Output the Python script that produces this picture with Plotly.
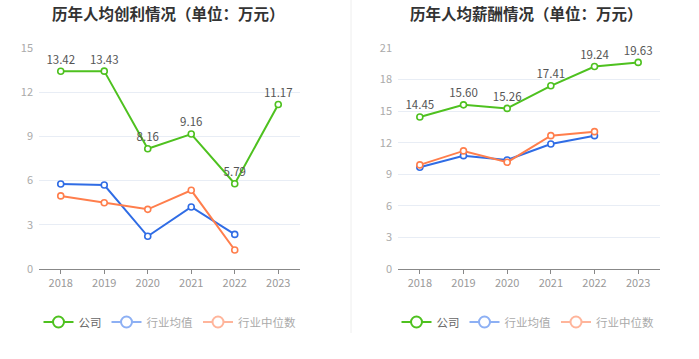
import plotly.graph_objects as go

years = ["2018", "2019", "2020", "2021", "2022", "2023"]

profit_company = [13.42, 13.43, 8.16, 9.16, 5.79, 11.17]
profit_avg = [5.77, 5.70, 2.22, 4.21, 2.35, None]
profit_median = [4.96, 4.50, 4.05, 5.34, 1.29, None]

salary_company = [14.45, 15.60, 15.26, 17.41, 19.24, 19.63]
salary_avg = [9.67, 10.77, 10.36, 11.88, 12.67, None]
salary_median = [9.89, 11.22, 10.14, 12.67, 13.05, None]

titles = ["历年人均创利情况（单位：万元）", "历年人均薪酬情况（单位：万元）"]
series_names = ["公司", "行业均值", "行业中位数"]

GREEN = "#4ec11f"
BLUE = "#2f6ce5"
ORANGE = "#ff7e4c"
BLUE_L = "#8db0f4"
ORANGE_L = "#ffb59b"
FONT = "Noto Sans CJK SC"

W, H = 699, 359
def px(x):
    return x / W
def py(y):
    return (H - y) / H

fig = go.Figure()

panels = [
    dict(xa="x", ya="y", leg="legend", data=[profit_company, profit_avg, profit_median]),
    dict(xa="x2", ya="y2", leg="legend2", data=[salary_company, salary_avg, salary_median]),
]
colors = [GREEN, BLUE, ORANGE]
for p in panels:
    for i, (vals, col) in enumerate(zip(p["data"], colors)):
        fig.add_trace(go.Scatter(
            x=years, y=vals, xaxis=p["xa"], yaxis=p["ya"],
            mode="lines+markers+text" if i == 0 else "lines+markers",
            text=[f"{v:.2f}" if v is not None else "" for v in vals] if i == 0 else None,
            textposition="top center",
            textfont=dict(size=11.5, color="#555", family=FONT),
            line=dict(color=col, width=2),
            marker=dict(symbol="circle", size=6, color="white", line=dict(color=col, width=1.6)),
            showlegend=False, cliponaxis=False, hoverinfo="skip",
        ))
    leg_colors = [GREEN, BLUE_L, ORANGE_L]
    leg_text = ["#666", "#aaa", "#aaa"]
    for name, col, tc in zip(series_names, leg_colors, leg_text):
        fig.add_trace(go.Scatter(
            x=[None], y=[None], xaxis=p["xa"], yaxis=p["ya"],
            mode="lines+markers", name=f"<span style='color:{tc}'>{name}</span>",
            line=dict(color=col, width=2),
            marker=dict(symbol="circle", size=11, color="white", line=dict(color=col, width=2)),
            legend=p["leg"],
        ))

axis_common = dict(
    type="category", range=[-0.5, 5.5], showgrid=False, showline=True,
    linecolor="#888", linewidth=1, ticks="outside", ticklen=4, tickcolor="#888",
    tickfont=dict(size=11, color="#999", family=FONT), zeroline=False, fixedrange=True,
)
yaxis_common = dict(
    showgrid=True, gridcolor="#e8edf5", gridwidth=1, zeroline=False, showline=False,
    tickfont=dict(size=11, color="#aaa", family=FONT), ticks="", fixedrange=True,
    ticklabelstandoff=5,
)

fig.update_layout(
    width=W, height=H, margin=dict(l=0, r=0, t=0, b=0, autoexpand=False),
    paper_bgcolor="white", plot_bgcolor="white",
    font=dict(family=FONT),
    xaxis=dict(domain=[px(39), px(300)], anchor="y", **axis_common),
    yaxis=dict(domain=[py(269), py(48)], anchor="x", range=[0, 15], dtick=3, **yaxis_common),
    xaxis2=dict(domain=[px(398), px(660)], anchor="y2", **axis_common),
    yaxis2=dict(domain=[py(269), py(48)], anchor="x2", range=[0, 21], dtick=3, **yaxis_common),
    legend=dict(orientation="h", x=px(170), xanchor="center", y=py(322), yanchor="middle",
                font=dict(size=11.5, color="#666", family=FONT), itemwidth=30,
                bgcolor="rgba(0,0,0,0)", tracegroupgap=0),
    legend2=dict(orientation="h", x=px(528), xanchor="center", y=py(322), yanchor="middle",
                 font=dict(size=11.5, color="#666", family=FONT), itemwidth=30,
                 bgcolor="rgba(0,0,0,0)", tracegroupgap=0),
    annotations=[
        dict(text=f"<b>{titles[0]}</b>", x=px(168), y=py(13), xref="paper", yref="paper",
             xanchor="center", yanchor="middle", showarrow=False,
             font=dict(size=15.5, color="#333", family=FONT)),
        dict(text=f"<b>{titles[1]}</b>", x=px(526), y=py(13), xref="paper", yref="paper",
             xanchor="center", yanchor="middle", showarrow=False,
             font=dict(size=15.5, color="#333", family=FONT)),
    ],
    shapes=[
        dict(type="line", xref="paper", yref="paper", x0=px(351), x1=px(351),
             y0=py(333), y1=1, line=dict(color="#eeeeee", width=1)),
    ],
)

fig.write_html("out.html", config={"displayModeBar": False},
               post_script="document.body.style.margin='0';")
